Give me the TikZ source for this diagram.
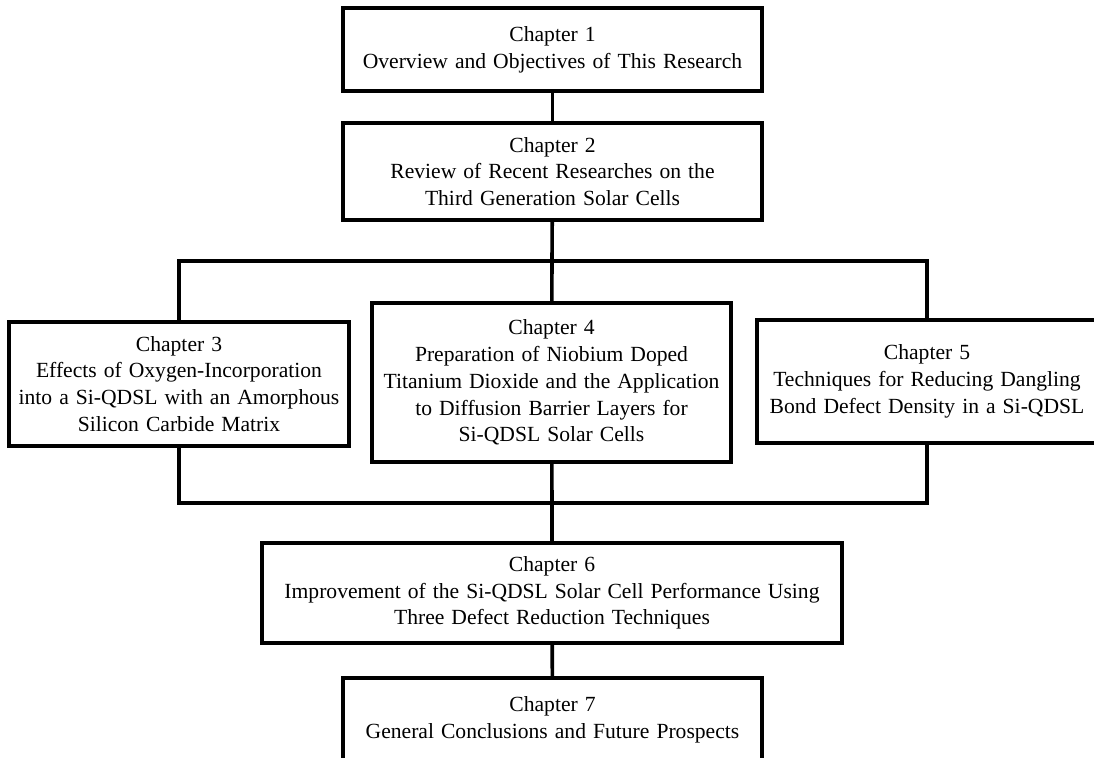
\documentclass[tikz,border=0pt]{standalone}
\usepackage{fontspec}
\setmainfont{Liberation Serif}[WordSpace=1.3]

\begin{document}
\begin{tikzpicture}[x=0.5pt,y=-0.5pt,
  chap/.style={draw, line width=1.8pt, align=center, inner sep=0pt,
    font=\fontsize{10.8}{13.4}\selectfont},
  link/.style={line width=1.8pt}]
  \clip (0,0) rectangle (1094,758);
  \node[chap, minimum width=209.5pt, minimum height=41.5pt] (c1) at (552.5,49.5)
    {Chapter 1\\Overview and Objectives of This Research};
  \node[chap, minimum width=209.5pt, minimum height=48.5pt] (c2) at (552.5,171.5)
    {Chapter 2\\Review of Recent Researches on the\\Third Generation Solar Cells};
  \node[chap, minimum width=170pt, minimum height=62pt] (c3) at (179,384)
    {Chapter 3\\Effects of Oxygen-Incorporation\\into a Si-QDSL with an Amorphous\\Silicon Carbide Matrix};
  \node[chap, minimum width=179.5pt, minimum height=79.5pt] (c4) at (551.5,382.5)
    {Chapter 4\\Preparation of Niobium Doped\\Titanium Dioxide and the Application\\to Diffusion Barrier Layers for\\Si-QDSL Solar Cells};
  \node[chap, minimum width=170pt, minimum height=61.5pt] (c5) at (927,381.5)
    {Chapter 5\\Techniques for Reducing Dangling\\Bond Defect Density in a Si-QDSL};
  \node[chap, minimum width=290pt, minimum height=50pt] (c6) at (552,593)
    {Chapter 6\\Improvement of the Si-QDSL Solar Cell Performance Using\\Three Defect Reduction Techniques};
  \node[chap, minimum width=209.5pt, minimum height=42pt] (c7) at (552.5,720)
    {Chapter 7\\General Conclusions and Future Prospects};

  % branch and merge points
  \coordinate (split) at (552,261);
  \coordinate (merge) at (552,503);

  \draw[link] (c1) -- (c2);
  \draw[link] (c2) -- (split) -- (c4);
  \draw[link] (c3.north) |- (split) -| (c5.north);
  \draw[link] (c3.south) |- (merge) -| (c5.south);
  \draw[link] (c4) -- (merge) -- (c6);
  \draw[link] (c6) -- (c7);
\end{tikzpicture}
\end{document}
